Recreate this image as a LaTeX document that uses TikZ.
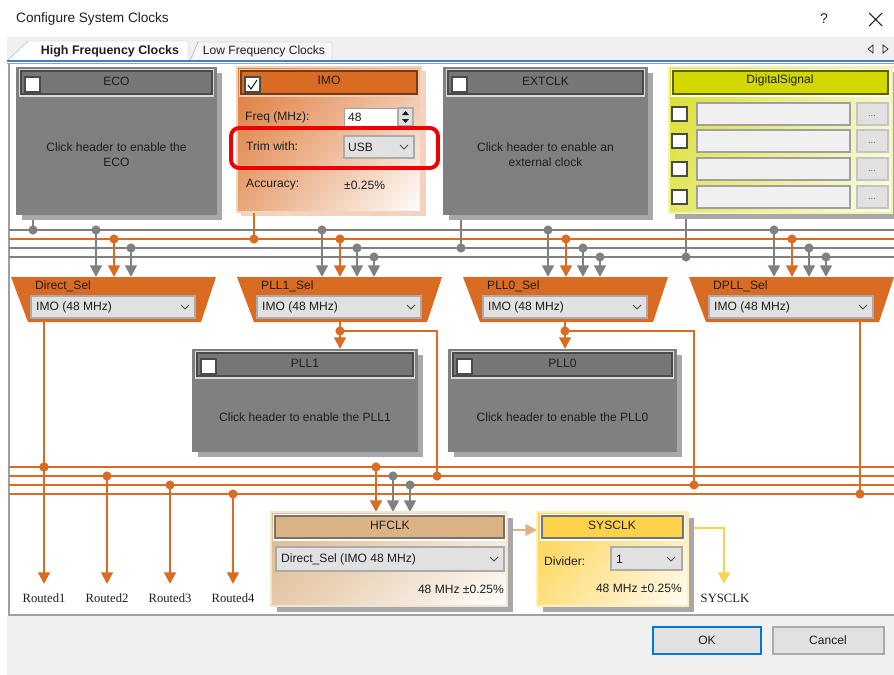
\documentclass[tikz,border=0pt]{standalone}
\usepackage{fontspec}
\setmainfont{Liberation Serif}
\newfontfamily\uifont{Liberation Sans}
\usetikzlibrary{arrows.meta,shadings}
\definecolor{clkorange}{HTML}{D96B22}
\definecolor{imoshade}{HTML}{F3D3BE}
\definecolor{busgrey}{HTML}{808080}
\definecolor{boxgrey}{HTML}{808080}
\definecolor{hdrgrey}{HTML}{777777}
\definecolor{hdredge}{HTML}{4A4A4A}
\definecolor{shadowgrey}{HTML}{A8A8A8}
\definecolor{combogrey}{HTML}{E1E1E1}
\definecolor{comboedge}{HTML}{ABABAB}
\definecolor{panelgrey}{HTML}{F0F0F0}
\definecolor{framegrey}{HTML}{A0A0A0}
\definecolor{tabblue}{HTML}{3D7FD0}
\definecolor{tabedge}{HTML}{9DB9D9}
\definecolor{tabgrey}{HTML}{F6F6F6}
\definecolor{okblue}{HTML}{0078D7}
\definecolor{hfclktan}{HTML}{DCB384}
\definecolor{sysgold}{HTML}{FFD24C}
\definecolor{digyellow}{HTML}{D3D800}
\definecolor{textdark}{HTML}{1E1E1E}
\definecolor{trimred}{HTML}{F00000}
\newcommand{\chev}[2]{\draw[hdredge,line width=0.8pt] (#1-4,#2-2) -- (#1,#2+2) -- (#1+4,#2-2);}
\tikzset{
  ui/.style={font=\uifont\fontsize{10.3}{12.8}\selectfont,text=textdark,inner sep=0pt},
  routedlbl/.style={font=\fontsize{10.8}{12}\selectfont,text=textdark,inner sep=0pt},
  gline/.style={busgrey,line width=2.1pt},
  oline/.style={clkorange,line width=2.1pt},
  tap/.style={circle,fill,inner sep=0pt,minimum size=7.8pt},
  feed/.style={-{Triangle[width=10pt,length=10pt]}},
  combo/.style={fill=combogrey,draw=comboedge,line width=0.9pt},
  chkbox/.style={fill=white,draw=hdredge,line width=0.9pt},
  hdr/.style={draw=hdredge,line width=0.9pt},
}
\begin{document}
\begin{tikzpicture}[x=0.03cm,y=-0.03cm]
\useasboundingbox (0,0) rectangle (894,675);
\fill[white] (0,0) rectangle (894,675);

% window chrome
\node[ui,anchor=west,font=\uifont\fontsize{11.6}{13}\selectfont] (title) at (16,19) {Configure System Clocks};
\node[ui,font=\uifont\fontsize{12}{14}\selectfont] (help) at (824,19) {?};
\draw[textdark,line width=0.9pt] (869,13) -- (882,26) (882,13) -- (869,26);
\fill[panelgrey] (7,37) rectangle (894,61);
\draw[tabedge,fill=white] (7,61) -- (28,41) -- (188,41) -- (188,61);
\draw[comboedge,fill=tabgrey] (190,61) -- (198,42) -- (332,42) -- (332,61);
\node[ui,font=\uifont\bfseries\fontsize{10.6}{12}\selectfont] (hftab) at (110,51) {High Frequency Clocks};
\node[ui] (lftab) at (264,51) {Low Frequency Clocks};
\draw[textdark,line width=0.6pt] (873,45) -- (868,49) -- (873,53) -- cycle;
\draw[textdark,line width=0.6pt] (883,45) -- (888,49) -- (883,53) -- cycle;
\draw[tabblue,line width=1pt] (7,61) -- (894,61);
\draw[framegrey,line width=0.8pt] (7,63) -- (894,63);
\draw[framegrey,line width=1pt] (9,63) -- (9,615) -- (894,615);
\fill[panelgrey] (7,616) rectangle (894,675);

% grey clock boxes
\foreach \nm/\xa/\ya/\xb/\yb/\ty/\ttl/\msg in {
    eco/16/67/217/215/155/ECO/{Click header to enable the\\ECO},
    ext/443/67/648/215/155/EXTCLK/{Click header to enable an\\external clock},
    pll1/192/349/418/452/417/PLL1/{Click header to enable the PLL1},
    pll0/448/349/677/452/417/PLL0/{Click header to enable the PLL0}}{
  \fill[shadowgrey] (\xa+6,\ya+6) rectangle (\xb+5,\yb+5);
  \fill[boxgrey] (\xa,\ya) rectangle (\xb,\yb);
  \draw[white!85!black,line width=1pt,fill=hdrgrey] (\xa+4,\ya+3) rectangle (\xb-4,\ya+29);
  \draw[hdr] (\xa+5,\ya+4) rectangle (\xb-5,\ya+27);
  \draw[chkbox] (\xa+9,\ya+10) rectangle (\xa+24,\ya+25);
  \node[ui] (\nm-title) at ({(\xa+\xb)/2},\ya+14) {\ttl};
  \node[ui,align=center] (\nm-msg) at ({(\xa+\xb)/2},\ty) {\msg};
}

% IMO
\fill[imoshade] (241,71) rectangle (426,216);
\shade[upper left=clkorange!90!white,upper right=clkorange!45!white,
  lower left=clkorange!60!white,lower right=white] (237,67) rectangle (421,212);
\draw[clkorange!30!white,line width=1.5pt] (237,67) rectangle (421,212);
\draw[clkorange!35!white,line width=1pt,fill=clkorange] (240,70) rectangle (418,96);
\draw[clkorange!55!black,line width=0.9pt] (241,71) rectangle (417,94);
\draw[chkbox] (245,77) rectangle (260,92);
\draw[textdark,line width=0.9pt] (248,85) -- (251,89) -- (257,80);
\node[ui] (imo-title) at (329,80) {IMO};
\node[ui,anchor=west] (freq-lbl) at (245,117) {Freq (MHz):};
\draw[fill=white,draw=framegrey,line width=0.8pt] (344,108) rectangle (397,126);
\node[ui,anchor=west] (freq-val) at (348,117) {48};
\draw[combo] (398,108) rectangle (413,126);
\fill[textdark] (402,115) -- (409,115) -- (405.5,111) -- cycle;
\fill[textdark] (402,119) -- (409,119) -- (405.5,123) -- cycle;
\node[ui,anchor=west] (trim-lbl) at (246,146) {Trim with:};
\draw[combo] (344,136) rectangle (414,158);
\node[ui,anchor=west] (trim-val) at (348,147) {USB};
\chev{404}{147}
\draw[trimred,line width=3.4pt,rounded corners=7pt] (231,128) rectangle (438,168);
\node[ui,anchor=west] (acc-lbl) at (246,185) {Accuracy:};
\node[ui,anchor=west] (acc-val) at (344,185) {±0.25\%};

% DigitalSignal
\fill[shadowgrey] (675,72) rectangle (894,219);
\shade[upper left=digyellow!85!white,upper right=digyellow!25!white,
  lower left=digyellow!60!white,lower right=digyellow!8!white] (669,67) rectangle (892,213);
\draw[digyellow!30!white,line width=1.2pt] (669,67) rectangle (892,213);
\draw[white,line width=1pt,fill=digyellow] (672,70) rectangle (889,96);
\draw[digyellow!45!black,line width=0.9pt] (673,71) rectangle (888,94);
\node[ui] (dig-title) at (780,80) {DigitalSignal};
\foreach \yc [count=\i] in {114,141,169,197}{
  \draw[chkbox] (672,\yc-7) rectangle (687,\yc+7);
  \draw[fill=panelgrey,draw=framegrey,line width=0.9pt] (697,\yc-11) rectangle (850,\yc+11);
  \draw[fill=combogrey,draw=comboedge!70!white,line width=0.9pt] (857,\yc-11) rectangle (888,\yc+11);
  \node[ui,font=\uifont\fontsize{8}{9}\selectfont,text=black!60] (dig-btn\i) at (872,\yc+2) {...};
}

% upper bus
\draw[gline] (9,230) -- (894,230);
\draw[oline] (9,239) -- (894,239);
\draw[gline] (9,248) -- (894,248);
\draw[gline] (9,257) -- (894,257);
\coordinate (eco-out) at (33,220);
\coordinate (imo-out) at (254,213);
\coordinate (ext-out) at (461,220);
\coordinate (dig-out) at (686,219);
\node[tap,busgrey] (eco-tap) at (33,230) {};
\node[tap,clkorange] (imo-tap) at (254,239) {};
\node[tap,busgrey] (ext-tap) at (461,248) {};
\node[tap,busgrey] (dig-tap) at (686,257) {};
\draw[gline] (eco-out) -- (eco-tap.center);
\draw[oline] (imo-out) -- (imo-tap.center);
\draw[gline] (ext-out) -- (ext-tap.center);
\draw[gline] (dig-out) -- (dig-tap.center);

% selectors
\foreach \nm/\L/\n/\lbl in {dsel/11/3/Direct\_Sel, p1sel/237/4/PLL1\_Sel,
    p0sel/463/4/PLL0\_Sel, dpsel/689/4/DPLL\_Sel}{
  \fill[clkorange] (\L,277) -- (\L+205,277) -- (\L+190,322) -- (\L+17,322) -- cycle;
  \node[ui,anchor=west] (\nm-lbl) at (\L+24,286) {\lbl};
  \draw[combo] (\L+20,296) rectangle (\L+184,318);
  \node[ui,anchor=west] (\nm-val) at (\L+25,307) {IMO (48 MHz)};
  \chev{\L+174}{307}
  \node[tap,busgrey] (\nm-in1) at (\L+85,230) {};
  \node[tap,clkorange] (\nm-in2) at (\L+103,239) {};
  \node[tap,busgrey] (\nm-in3) at (\L+120,248) {};
  \draw[gline,feed] (\nm-in1.center) -- (\L+85,277);
  \draw[oline,feed] (\nm-in2.center) -- (\L+103,277);
  \draw[gline,feed] (\nm-in3.center) -- (\L+120,277);
  \ifnum\n>3
    \node[tap,busgrey] (\nm-in4) at (\L+137,257) {};
    \draw[gline,feed] (\nm-in4.center) -- (\L+137,277);
  \fi
}

% lower bus
\foreach \yb in {467,476,485,494}
  \draw[oline] (9,\yb) -- (894,\yb);
\coordinate (dsel-out) at (44,322);
\coordinate (p1sel-out) at (340,322);
\coordinate (p0sel-out) at (565,322);
\coordinate (dpsel-out) at (860,322);
\coordinate (pll1-top) at (340,349);
\coordinate (pll0-top) at (565,349);
\node[tap,clkorange] (p1sel-split) at (340,331) {};
\node[tap,clkorange] (p0sel-split) at (565,331) {};
\node[tap,clkorange] (bus1-dsel) at (44,467) {};
\node[tap,clkorange] (bus2-p1) at (437,476) {};
\node[tap,clkorange] (bus3-p0) at (694,485) {};
\node[tap,clkorange] (bus4-dp) at (860,494) {};
\draw[oline] (dsel-out) -- (bus1-dsel.center);
\draw[oline] (p1sel-out) -- (p1sel-split.center);
\draw[oline,feed] (p1sel-split.center) -- (pll1-top);
\draw[oline] (p1sel-split.center) -| (bus2-p1.center);
\draw[oline] (p0sel-out) -- (p0sel-split.center);
\draw[oline,feed] (p0sel-split.center) -- (pll0-top);
\draw[oline] (p0sel-split.center) -| (bus3-p0.center);
\draw[oline] (dpsel-out) -- (bus4-dp.center);

% routed outputs
\foreach \xr/\yb/\i in {44/467/1,107/476/2,170/485/3,233/494/4}{
  \node[tap,clkorange] (route\i-tap) at (\xr,\yb) {};
  \coordinate (route\i-end) at (\xr,584);
  \draw[oline,feed] (route\i-tap.center) -- (route\i-end);
  \node[routedlbl] (route\i-lbl) at (\xr,598) {Routed\i};
}

% HFCLK
\node[tap,clkorange] (hf-in1) at (376,467) {};
\node[tap,busgrey] (hf-in2) at (393,476) {};
\node[tap,busgrey] (hf-in3) at (410,485) {};
\coordinate (hf-top1) at (376,512);
\coordinate (hf-top2) at (393,512);
\coordinate (hf-top3) at (410,512);
\draw[oline,feed] (hf-in1.center) -- (hf-top1);
\draw[gline,feed] (hf-in2.center) -- (hf-top2);
\draw[gline,feed] (hf-in3.center) -- (hf-top3);
\fill[shadowgrey] (277,518) rectangle (513,612);
\shade[upper left=hfclktan!95!white,upper right=hfclktan!40!white,
  lower left=hfclktan!70!white,lower right=white] (271,512) rectangle (507,606);
\draw[hfclktan!35!white,line width=1.2pt] (271,512) rectangle (507,606);
\draw[white,line width=1pt,fill=hfclktan] (274,515) rectangle (505,540);
\draw[hdr,draw=black!55] (275,516) rectangle (504,538);
\node[ui] (hf-title) at (390,525) {HFCLK};
\draw[combo] (276,547) rectangle (504,571);
\node[ui,anchor=west] (hf-src) at (281,559) {Direct\_Sel (IMO 48 MHz)};
\chev{494}{559}
\node[ui,anchor=east] (hf-freq) at (504,589) {48 MHz ±0.25\%};

% SYSCLK
\coordinate (hf-out) at (513,530);
\coordinate (sys-in) at (537,530);
\draw[hfclktan,line width=2.1pt,feed] (hf-out) -- (sys-in);
\fill[shadowgrey] (543,518) rectangle (694,612);
\shade[upper left=sysgold,upper right=sysgold!45!white,
  lower left=sysgold!70!white,lower right=sysgold!5!white] (537,512) rectangle (688,606);
\draw[sysgold!35!white,line width=1.2pt] (537,512) rectangle (688,606);
\draw[white,line width=1pt,fill=sysgold] (541,515) rectangle (684,540);
\draw[hdr,draw=black!55] (542,516) rectangle (683,538);
\node[ui] (sys-title) at (612,525) {SYSCLK};
\node[ui,anchor=west] (div-lbl) at (544,561) {Divider:};
\draw[combo] (611,547) rectangle (682,570);
\node[ui,anchor=west] (div-val) at (616,559) {1};
\chev{671}{559}
\node[ui,anchor=east] (sys-freq) at (682,588) {48 MHz ±0.25\%};
\coordinate (sys-out) at (694,528);
\coordinate (sys-end) at (724,584);
\draw[sysgold,line width=2.1pt,feed] (sys-out) -| (sys-end);
\node[routedlbl] (sys-lbl) at (725,598) {SYSCLK};

% dialog buttons
\draw[okblue,fill=combogrey,line width=1.7pt] (653,627) rectangle (761,654);
\node[ui] (ok) at (707,640) {OK};
\draw[comboedge,fill=combogrey,line width=1pt] (773,627) rectangle (884,654);
\node[ui] (cancel) at (828,640) {Cancel};
\end{tikzpicture}
\end{document}
